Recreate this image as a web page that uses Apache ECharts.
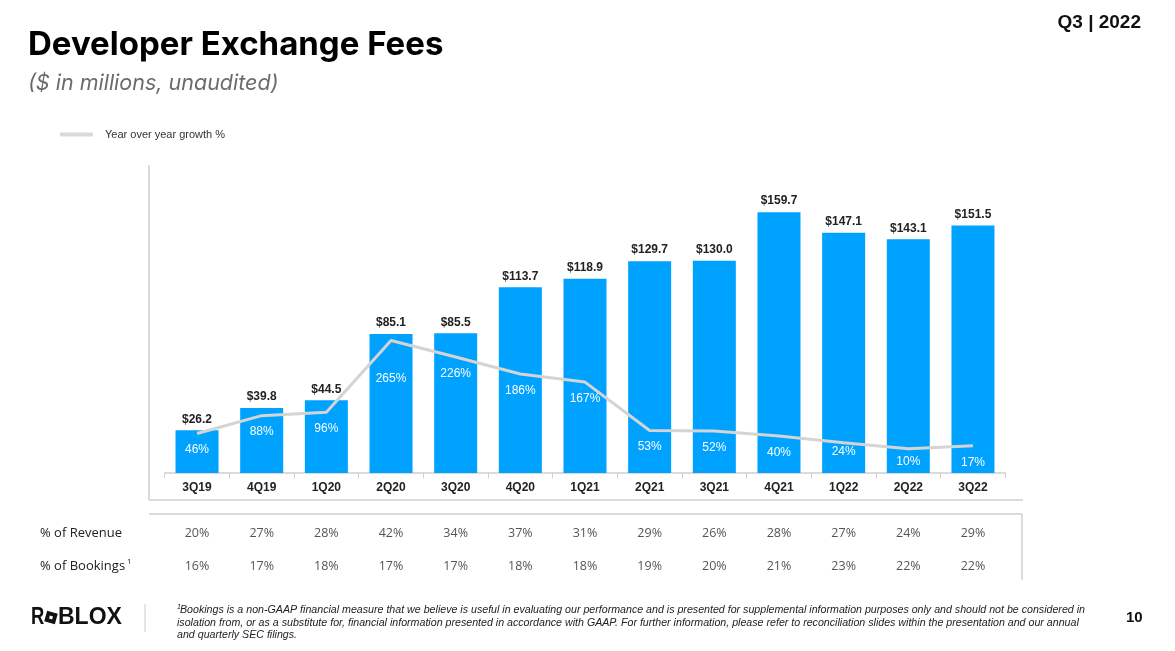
<!DOCTYPE html>
<html>
<head>
<meta charset="utf-8">
<script src="https://cdn.jsdelivr.net/npm/echarts@6/dist/echarts.min.js"></script>
<style>
html,body{margin:0;padding:0;background:#fff;}
#chart{width:1175px;height:651px;}
</style>
</head>
<body>
<div id="chart"></div>
<script>
// ---- data ----
const categories = ['3Q19','4Q19','1Q20','2Q20','3Q20','4Q20','1Q21','2Q21','3Q21','4Q21','1Q22','2Q22','3Q22'];
const devExFees = [26.2, 39.8, 44.5, 85.1, 85.5, 113.7, 118.9, 129.7, 130.0, 159.7, 147.1, 143.1, 151.5];
const yoyGrowth = [46, 88, 96, 265, 226, 186, 167, 53, 52, 40, 24, 10, 17];
const revenueShare = ['20%','27%','28%','42%','34%','37%','31%','29%','26%','28%','27%','24%','29%'];
const bookingsShare = ['16%','17%','18%','17%','17%','18%','18%','19%','20%','21%','23%','22%','22%'];

// ---- style tweaks (label distance below the line point, px) ----
const growthLabelDistance = {'2Q20': 32, '1Q22': 2, '2Q22': 6};

const BLUE = '#00a2ff';
const GREY_LINE = '#d4d4d4';
const FRAME = '#cfcfcf';
const ARIAL = '"Liberation Sans", Arial, sans-serif';

const growthData = yoyGrowth.map((v, i) => {
  const d = growthLabelDistance[categories[i]];
  return d !== undefined ? {value: v, label: {show: true, position: 'bottom', distance: d}} : v;
});

const chart = echarts.init(document.getElementById('chart'), null, {renderer: 'canvas'});

const tableAxis = (data, offset) => ({
  type: 'category', data: data, position: 'bottom', offset: offset,
  axisLine: {show: false}, axisTick: {show: false}, splitLine: {show: false},
  axisLabel: {color: '#555', fontSize: 12.5, fontFamily: '"Open Sans", sans-serif', margin: 9}
});

const option = {
  backgroundColor: '#fff',
  animation: false,
  legend: {
    left: 55, top: 124,
    data: [{name: 'Year over year growth %', icon: 'rect', itemStyle: {color: '#d9d9d9', opacity: 1}}],
    itemWidth: 33, itemHeight: 4, itemGap: 10,
    textStyle: {color: '#333', fontSize: 11, fontFamily: ARIAL, padding: [0, 0, 0, 7]}
  },
  grid: {left: 164.7, right: 169.7, top: 179, bottom: 178},
  xAxis: [
    {
      type: 'category', data: categories,
      axisLine: {lineStyle: {color: FRAME, width: 1.5}},
      axisTick: {show: true, length: 5, lineStyle: {color: FRAME, width: 1}},
      axisLabel: {color: '#222', fontWeight: 'bold', fontSize: 12, fontFamily: ARIAL, margin: 9},
      splitLine: {show: false}
    },
    tableAxis(revenueShare, 45),
    tableAxis(bookingsShare, 78)
  ],
  yAxis: [
    {type: 'value', min: 0, max: 180, show: false, splitLine: {show: false}},
    {type: 'value', min: -47, max: 645, show: false, splitLine: {show: false}}
  ],
  series: [
    {
      name: 'Developer Exchange Fees',
      type: 'bar',
      data: devExFees,
      barWidth: 43,
      itemStyle: {color: BLUE},
      label: {
        show: true, position: 'top', distance: 5,
        color: '#222', fontWeight: 'bold', fontSize: 12, fontFamily: ARIAL,
        formatter: p => '$' + p.value.toFixed(1)
      },
      z: 2
    },
    {
      name: 'Year over year growth %',
      type: 'line',
      yAxisIndex: 1,
      data: growthData,
      symbol: 'circle',
      symbolSize: 1,
      showSymbol: true,
      lineStyle: {color: GREY_LINE, width: 3},
      itemStyle: {color: 'rgba(212,212,212,0)', borderWidth: 0},
      label: {
        show: true, position: 'bottom', distance: 10,
        color: '#ffffff', fontSize: 12, fontFamily: ARIAL,
        formatter: p => p.value + '%'
      },
      labelLayout: {hideOverlap: false},
      z: 3
    }
  ],
  graphic: [
    // titles
    {type: 'text', left: 28, top: 29, style: {text: 'Developer Exchange Fees', fill: '#000', font: 'bold 33px Inter, "Liberation Sans", sans-serif'}},
    {type: 'text', left: 28, top: 73, style: {text: '($ in millions, unaudited)', fill: '#6b6b6b', font: 'italic 21.5px Inter, "Liberation Sans", sans-serif'}},
    {type: 'text', right: 34, top: 13, style: {text: 'Q3 | 2022', fill: '#111', font: 'bold 19px "Liberation Sans", Arial, sans-serif'}},
    // chart frame
    {type: 'line', shape: {x1: 149, y1: 165, x2: 149, y2: 500}, style: {stroke: FRAME, lineWidth: 1.5}},
    {type: 'line', shape: {x1: 149, y1: 500, x2: 1023, y2: 500}, style: {stroke: FRAME, lineWidth: 1.5}},
    // table frame
    {type: 'line', shape: {x1: 149, y1: 514, x2: 1022, y2: 514}, style: {stroke: FRAME, lineWidth: 1.5}},
    {type: 'line', shape: {x1: 1022, y1: 514, x2: 1022, y2: 580}, style: {stroke: FRAME, lineWidth: 1.5}},
    // table row labels
    {type: 'text', left: 40, top: 527, style: {text: '% of Revenue', fill: '#222', font: '13px "Open Sans", sans-serif'}},
    {type: 'text', left: 40, top: 560, style: {text: '% of Bookings', fill: '#222', font: '13px "Open Sans", sans-serif'}},
    {type: 'text', left: 127, top: 558, style: {text: '1', fill: '#222', font: '8px "Open Sans", sans-serif'}},
    // logo
    {type: 'text', x: 31, y: 606, scaleX: 0.8, style: {text: 'R', fill: '#111', font: '900 23px "Liberation Sans", Arial, sans-serif'}},
    {type: 'rect', x: 51, y: 617.5, rotation: -0.27,
      shape: {x: -5.5, y: -5.5, width: 11, height: 11}, style: {fill: '#111'}},
    {type: 'rect', x: 51, y: 617.5, rotation: -0.27,
      shape: {x: -1.6, y: -1.6, width: 3.2, height: 3.2}, style: {fill: '#fff'}},
    {type: 'text', left: 58, top: 606, style: {text: 'BLOX', fill: '#111', font: '900 23px "Liberation Sans", Arial, sans-serif'}},
    {type: 'line', shape: {x1: 145, y1: 604, x2: 145, y2: 632}, style: {stroke: '#cccccc', lineWidth: 1}},
    // footnote
    {type: 'text', left: 177, top: 604, style: {text: '1', fill: '#222', font: 'italic 7px "Liberation Sans", Arial, sans-serif'}},
    {type: 'text', left: 180, top: 605, style: {
      text: 'Bookings is a non-GAAP financial measure that we believe is useful in evaluating our performance and is presented for supplemental information purposes only and should not be considered in',
      fill: '#222', font: 'italic 10.65px "Liberation Sans", Arial, sans-serif'}},
    {type: 'text', left: 177, top: 617.5, style: {
      text: 'isolation from, or as a substitute for, financial information presented in accordance with GAAP. For further information, please refer to reconciliation slides within the presentation and our annual',
      fill: '#222', font: 'italic 10.65px "Liberation Sans", Arial, sans-serif'}},
    {type: 'text', left: 177, top: 630, style: {
      text: 'and quarterly SEC filings.',
      fill: '#222', font: 'italic 10.65px "Liberation Sans", Arial, sans-serif'}},
    // page number
    {type: 'text', left: 1126, top: 610, style: {text: '10', fill: '#111', font: 'bold 15px "Liberation Sans", Arial, sans-serif'}}
  ]
};

chart.setOption(option);
</script>
</body>
</html>
